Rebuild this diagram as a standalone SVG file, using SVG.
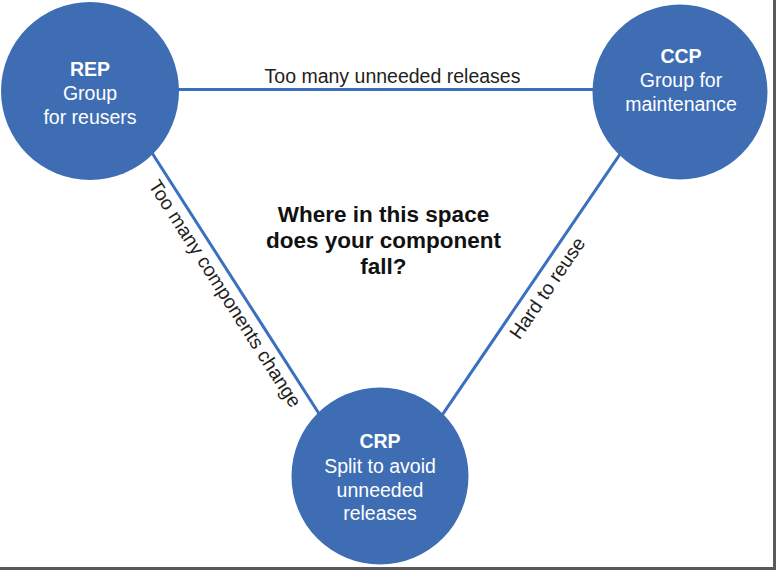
<svg xmlns="http://www.w3.org/2000/svg" width="776" height="570" viewBox="0 0 776 570">
<style>
.node{fill:#3e6db4}
.nt{font-family:"Liberation Sans",Arial,sans-serif;font-size:19.5px;fill:#ffffff;text-anchor:middle}
.nt .b{font-weight:bold}
.conn{stroke:#3b6fbf;stroke-width:3;fill:none}
.lbl{font-family:"Liberation Sans",Arial,sans-serif;font-size:19.5px;fill:#1e1e1e;text-anchor:middle}
.q{font-family:"Liberation Sans",Arial,sans-serif;font-size:22.5px;font-weight:bold;fill:#111;text-anchor:middle}
</style>
<rect x="0" y="0" width="776" height="570" fill="#ffffff"/>
<g id="connectors">
<line class="conn" x1="170" y1="89.5" x2="600" y2="89.5"/>
<line class="conn" x1="146" y1="143.5" x2="325" y2="423"/>
<line class="conn" x1="624.8" y1="147.1" x2="440.2" y2="417.9"/>
<text class="lbl" x="392.5" y="83">Too many unneeded releases</text>
<text class="lbl" transform="translate(219.5 297.1) rotate(57.4)">Too many components change</text>
<text class="lbl" transform="translate(552.8 291.8) rotate(-55.7)">Hard to reuse</text>
</g>
<g id="REP">
<circle class="node" cx="90" cy="91" r="89"/>
<text class="nt"><tspan class="b" x="90" y="76">REP</tspan><tspan x="90" y="100">Group</tspan><tspan x="90" y="124">for reusers</tspan></text>
</g>
<g id="CCP">
<circle class="node" cx="680" cy="92" r="87.5"/>
<text class="nt"><tspan class="b" x="681" y="63">CCP</tspan><tspan x="681" y="87">Group for</tspan><tspan x="681" y="111">maintenance</tspan></text>
</g>
<g id="CRP">
<circle class="node" cx="380" cy="476" r="88.5"/>
<text class="nt"><tspan class="b" x="380" y="448">CRP</tspan><tspan x="380" y="473">Split to avoid</tspan><tspan x="380" y="497">unneeded</tspan><tspan x="380" y="520">releases</tspan></text>
</g>
<g id="question">
<text class="q"><tspan x="383.5" y="222">Where in this space</tspan><tspan x="383.5" y="248">does your component</tspan><tspan x="383.5" y="274">fall?</tspan></text>
</g>
<g id="frame">
<rect x="773" y="0" width="3" height="570" fill="#5a5a5e"/>
<rect x="0" y="567" width="776" height="3" fill="#5a5a5e"/>
</g>
</svg>
